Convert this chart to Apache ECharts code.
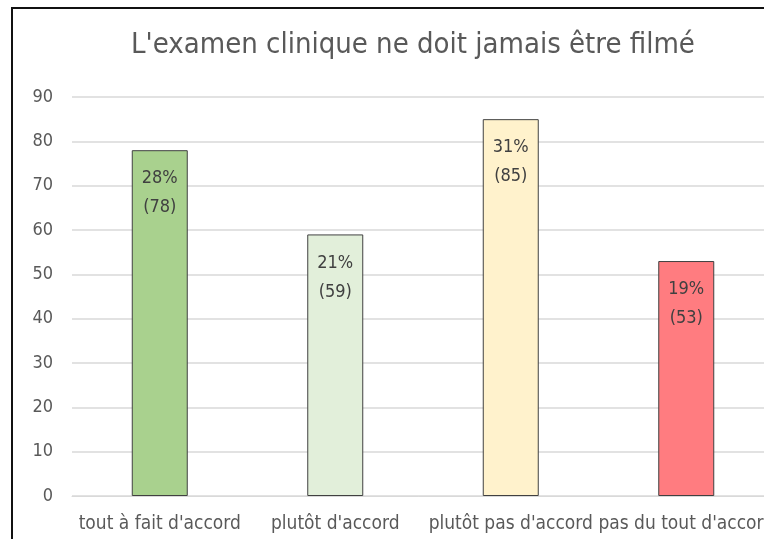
<!DOCTYPE html>
<html>
<head>
<meta charset="utf-8">
<script src="https://cdn.jsdelivr.net/npm/echarts@6/dist/echarts.min.js"></script>
<style>
    html, body { margin: 0; padding: 0; background: #fff; }
    #main { width: 764px; height: 539px; }
</style>
</head>
<body>
<div id="main"></div>
<script>
    // 数据
    var categories = ["tout à fait d'accord", "plutôt d'accord", "plutôt pas d'accord", "pas du tout d'accord"];
    var values = [78, 59, 85, 53];
    var barColors = ['#A9D18E', '#E2EFDA', '#FFF2CC', '#FF7C80'];
    var yTicks = [0, 10, 20, 30, 40, 50, 60, 70, 80, 90];

    var total = values.reduce(function (a, b) { return a + b; }, 0);
    var font = "'DejaVu Sans Condensed', 'Liberation Sans Narrow', sans-serif";

    var myChart = echarts.init(document.getElementById('main'));

    var option = {
        backgroundColor: '#fff',
        animation: false,
        // 标题
        title: {
            text: "L'examen clinique ne doit jamais être filmé",
            left: 408,
            top: 26,
            textAlign: 'center',
            textStyle: {
                fontFamily: font,
                fontSize: 29,
                fontWeight: 'normal',
                color: '#595959'
            }
        },
        // 外框
        graphic: [{
            type: 'polyline',
            shape: { points: [[12, 539], [12, 8], [764, 8]] },
            style: { stroke: '#111', lineWidth: 2, fill: null },
            silent: true
        }],
        grid: {
            left: 72,
            width: 702,
            top: 97,
            bottom: 43,
            containLabel: false,
            outerBoundsMode: 'none'
        },
        // X轴
        xAxis: {
            type: 'category',
            data: categories,
            axisLine: { lineStyle: { color: '#D9D9D9', width: 1 } },
            axisTick: { show: false },
            axisLabel: {
                interval: 0,
                hideOverlap: false,
                margin: 19,
                fontFamily: font,
                fontSize: 19,
                color: '#595959'
            }
        },
        // Y轴
        yAxis: {
            type: 'value',
            min: yTicks[0],
            max: yTicks[yTicks.length - 1],
            interval: 10,
            axisLine: { show: false },
            axisTick: { show: false },
            splitLine: { lineStyle: { color: '#D9D9D9', width: 1.5 } },
            axisLabel: {
                margin: 19,
                fontFamily: font,
                fontSize: 18,
                color: '#595959'
            }
        },
        series: [{
            type: 'bar',
            barWidth: 56,
            data: values.map(function (v, i) {
                return {
                    value: v,
                    itemStyle: {
                        color: barColors[i],
                        borderColor: '#404040',
                        borderWidth: 1
                    }
                };
            }),
            label: {
                show: true,
                position: 'insideTop',
                distance: 14,
                fontFamily: font,
                fontSize: 18,
                lineHeight: 29,
                color: '#404040',
                formatter: function (params) {
                    return Math.round(params.value / total * 100) + '%\n(' + params.value + ')';
                }
            }
        }]
    };
    myChart.setOption(option);
</script>
</body>
</html>
